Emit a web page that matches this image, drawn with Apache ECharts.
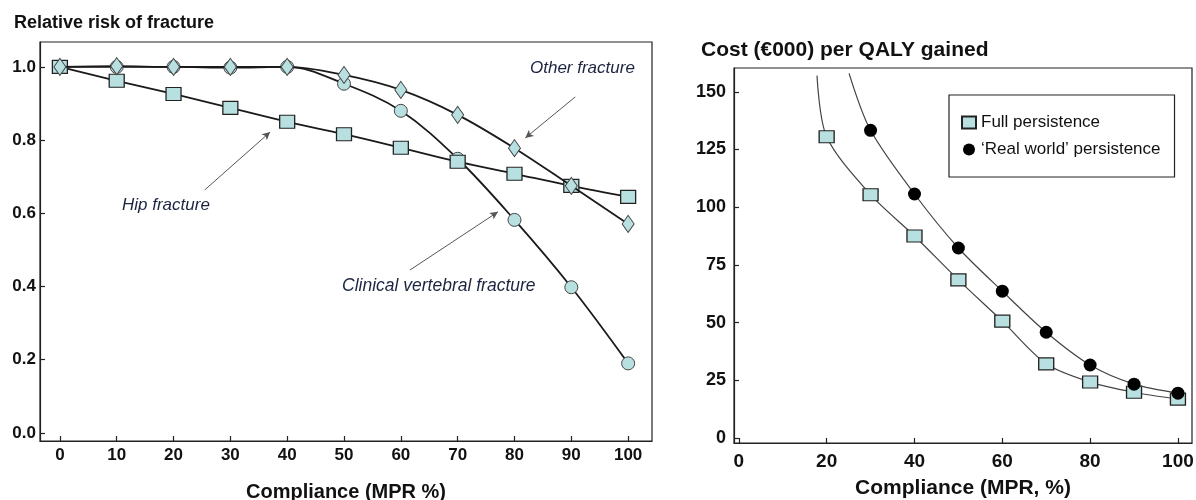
<!DOCTYPE html>
<html>
<head>
<meta charset="utf-8">
<script src="https://cdn.jsdelivr.net/npm/echarts@6/dist/echarts.min.js"></script>
<style>html,body{margin:0;padding:0;background:#fff}#c{width:1196px;height:500px}</style>
</head>
<body>
<div id="c"></div>
<script>
// ---- Left panel data ----
const compliance = [0, 10, 20, 30, 40, 50, 60, 70, 80, 90, 100];
const hipFracture = [1.0, 0.962, 0.926, 0.888, 0.850, 0.816, 0.779, 0.741, 0.708, 0.675, 0.645];
const vertebralFracture = [1.0, 1.0, 1.0, 0.998, 1.0, 0.954, 0.880, 0.749, 0.582, 0.398, 0.190];
const otherFracture = [1.0, 1.002, 1.0, 1.0, 1.0, 0.978, 0.937, 0.869, 0.778, 0.675, 0.571];
const leftXTicks = [0, 10, 20, 30, 40, 50, 60, 70, 80, 90, 100];
const leftYTicks = [0.0, 0.2, 0.4, 0.6, 0.8, 1.0];

// ---- Right panel data ----
const fullX = [17.8, 20, 30, 40, 50, 60, 70, 80, 90, 100];
const fullCost = [157, 130.5, 105.4, 87.5, 68.5, 50.6, 32.1, 24.2, 19.8, 16.8];
const realX = [25.1, 30, 40, 50, 60, 70, 80, 90, 100];
const realCost = [158, 133.3, 105.7, 82.3, 63.6, 45.8, 31.6, 23.3, 19.4];
const rightXTicks = [0, 20, 40, 60, 80, 100];
const rightYTicks = [0, 25, 50, 75, 100, 125, 150];

const FILL = '#b9e0e1';
const FONT = '"Liberation Sans", Arial, Helvetica, sans-serif';

function pairs(xs, ys, firstNoSymbol) {
  return xs.map((x, i) => {
    if (firstNoSymbol && i === 0) return { value: [x, ys[i]], symbol: 'none' };
    return [x, ys[i]];
  });
}

const chart = echarts.init(document.getElementById('c'), null, { renderer: 'canvas' });

const axisCommon = {
  splitLine: { show: false },
  axisLine: { show: true, onZero: false, lineStyle: { color: '#222', width: 1.2 } },
  axisTick: { show: true, inside: true, length: 5, lineStyle: { color: '#222', width: 1.2 } }
};

chart.setOption({
  animation: false,
  textStyle: { fontFamily: FONT },
  title: [
    { text: 'Relative risk of fracture', left: 9, top: 9,
      textStyle: { fontSize: 18, fontWeight: 'bold', color: '#111', fontFamily: FONT } },
    { text: 'Cost (€000) per QALY gained', left: 696, top: 35,
      textStyle: { fontSize: 21, fontWeight: 'bold', color: '#111', fontFamily: FONT } }
  ],
  grid: [
    { left: 40, top: 42, width: 612, height: 399, show: true, borderColor: '#222', borderWidth: 1.2,
      containLabel: false, outerBoundsMode: 'none' },
    { left: 734, top: 68, width: 458, height: 375, show: true, borderColor: '#222', borderWidth: 1.2,
      containLabel: false, outerBoundsMode: 'none' }
  ],
  legend: {
    data: [
      { name: 'Full persistence', icon: 'rect' },
      { name: '\u2018Real world\u2019 persistence', icon: 'circle' }
    ],
    orient: 'vertical',
    left: 949, top: 95, width: 231,
    padding: [19, 14, 19, 12],
    itemGap: 10,
    itemWidth: 14, itemHeight: 12,
    borderColor: '#222', borderWidth: 1.2,
    backgroundColor: '#fff',
    textStyle: { fontSize: 17, color: '#111', fontFamily: FONT, lineHeight: 17 }
  },
  xAxis: [
    Object.assign({}, axisCommon, {
      type: 'value', gridIndex: 0, min: -3.5, max: 104.2,
      axisTick: Object.assign({}, axisCommon.axisTick, { customValues: leftXTicks }),
      axisLabel: { customValues: leftXTicks, margin: 6, fontSize: 17, fontWeight: 'bold', color: '#111', fontFamily: FONT },
      name: 'Compliance (MPR %)', nameLocation: 'middle', nameGap: 41,
      nameTextStyle: { fontSize: 20, fontWeight: 'bold', color: '#111', fontFamily: FONT }
    }),
    Object.assign({}, axisCommon, {
      type: 'value', gridIndex: 1, min: -1.1, max: 103.2,
      axisTick: Object.assign({}, axisCommon.axisTick, { customValues: rightXTicks }),
      axisLabel: { customValues: rightXTicks, margin: 9, fontSize: 19, fontWeight: 'bold', color: '#111', fontFamily: FONT },
      name: 'Compliance (MPR, %)', nameLocation: 'middle', nameGap: 35,
      nameTextStyle: { fontSize: 21, fontWeight: 'bold', color: '#111', fontFamily: FONT }
    })
  ],
  yAxis: [
    Object.assign({}, axisCommon, {
      type: 'value', gridIndex: 0, min: -0.022, max: 1.068,
      axisTick: Object.assign({}, axisCommon.axisTick, { customValues: leftYTicks }),
      axisLabel: { customValues: leftYTicks, margin: 4, fontSize: 17, fontWeight: 'bold', color: '#111', fontFamily: FONT,
        formatter: v => v.toFixed(1) }
    }),
    Object.assign({}, axisCommon, {
      type: 'value', gridIndex: 1, min: -2.2, max: 160.3,
      axisTick: Object.assign({}, axisCommon.axisTick, { customValues: rightYTicks }),
      axisLabel: { customValues: rightYTicks, margin: 8, fontSize: 18, fontWeight: 'bold', color: '#111', fontFamily: FONT }
    })
  ],
  series: [
    {
      name: 'Clinical vertebral fracture', type: 'line', xAxisIndex: 0, yAxisIndex: 0,
      data: pairs(compliance, vertebralFracture), smooth: 0.35,
      symbol: 'circle', symbolSize: 13,
      lineStyle: { color: '#1a1a1a', width: 1.8 },
      itemStyle: { color: FILL, borderColor: '#444', borderWidth: 1 },
      z: 2
    },
    {
      name: 'Hip fracture', type: 'line', xAxisIndex: 0, yAxisIndex: 0,
      data: pairs(compliance, hipFracture), smooth: 0.35,
      symbol: 'rect', symbolSize: [15, 13],
      lineStyle: { color: '#1a1a1a', width: 1.8 },
      itemStyle: { color: FILL, borderColor: '#222', borderWidth: 1.2 },
      z: 3
    },
    {
      name: 'Other fracture', type: 'line', xAxisIndex: 0, yAxisIndex: 0,
      data: pairs(compliance, otherFracture), smooth: 0.35,
      symbol: 'diamond', symbolSize: [12, 17],
      lineStyle: { color: '#1a1a1a', width: 1.8 },
      itemStyle: { color: FILL, borderColor: '#444', borderWidth: 1 },
      z: 4,
      markLine: {
        silent: true, symbol: ['none', 'arrow'], symbolSize: [6, 8],
        label: { show: false },
        lineStyle: { color: '#555', width: 1, type: 'solid' },
        data: [
          [{ coord: [90.7, 0.918] }, { coord: [81.9, 0.806] }],
          [{ coord: [25.5, 0.664] }, { coord: [37.0, 0.822] }],
          [{ coord: [61.6, 0.445] }, { coord: [77.1, 0.604] }]
        ]
      }
    },
    {
      name: 'Full persistence', type: 'line', xAxisIndex: 1, yAxisIndex: 1,
      data: pairs(fullX, fullCost, true), smooth: 0.3,
      symbol: 'rect', symbolSize: [15, 12],
      lineStyle: { color: '#444', width: 1.2 },
      itemStyle: { color: FILL, borderColor: '#222', borderWidth: 1.2 },
      z: 3
    },
    {
      name: '\u2018Real world\u2019 persistence', type: 'line', xAxisIndex: 1, yAxisIndex: 1,
      data: pairs(realX, realCost, true), smooth: 0.3,
      symbol: 'circle', symbolSize: 13,
      lineStyle: { color: '#444', width: 1.2 },
      itemStyle: { color: '#000', borderColor: '#000', borderWidth: 0 },
      z: 4
    }
  ],
  graphic: [
    { type: 'text', left: 530, top: 60,
      style: { text: 'Other fracture', font: 'italic 17px ' + FONT, fill: '#1c2440' } },
    { type: 'text', left: 122, top: 197,
      style: { text: 'Hip fracture', font: 'italic 17px ' + FONT, fill: '#1c2440' } },
    { type: 'text', left: 342, top: 277,
      style: { text: 'Clinical vertebral fracture', font: 'italic 17.5px ' + FONT, fill: '#1c2440' } }
  ]
});
</script>
</body>
</html>
